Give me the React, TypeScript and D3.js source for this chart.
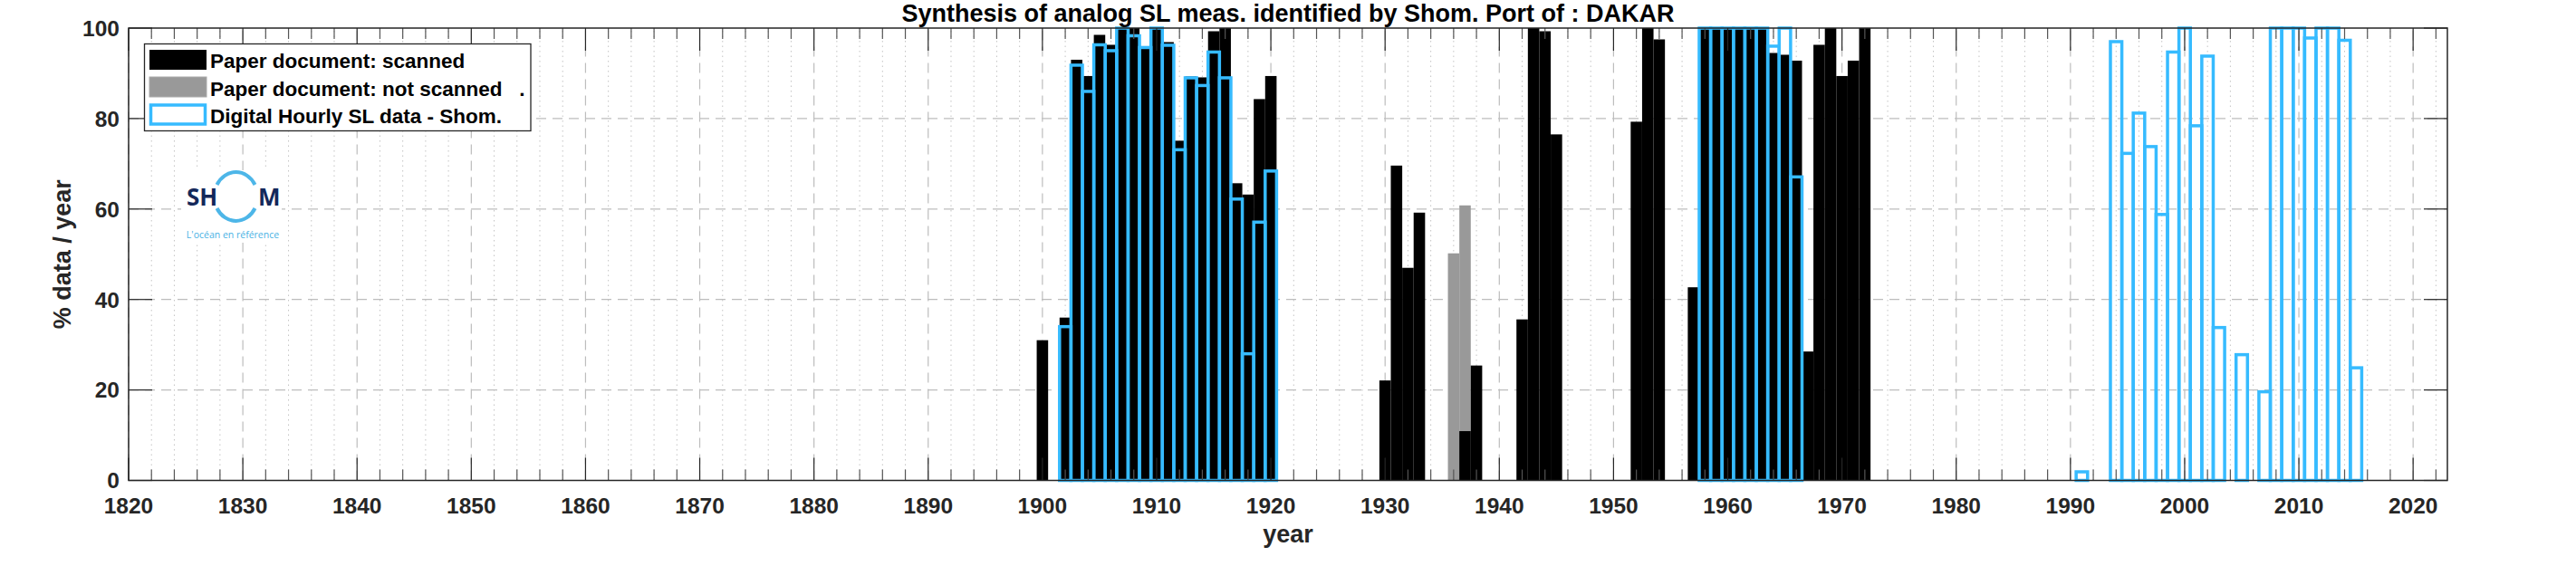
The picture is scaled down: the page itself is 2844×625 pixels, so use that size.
import React from "react";
import * as d3 from "d3";

// ---------- data ----------
const scannedYears = [1900, 1902, 1903, 1904, 1905, 1906, 1907, 1908, 1909, 1910, 1911, 1912, 1913, 1914, 1915, 1916, 1917, 1918, 1919, 1920,
  1930, 1931, 1932, 1933, 1937, 1938, 1942, 1943, 1944, 1945, 1952, 1953, 1954,
  1957, 1958, 1959, 1960, 1961, 1962, 1963, 1964, 1965, 1966, 1967, 1968, 1969, 1970, 1971, 1972];
const scannedPct = [31, 36, 93, 89.4, 98.5, 96.3, 100, 100, 96, 100, 96.9, 75.1, 89.3, 89.1, 99.3, 100, 65.7, 63.2, 84.3, 89.4,
  22.1, 69.6, 47, 59.2, 10.9, 25.4, 35.6, 100, 99.3, 76.5, 79.3, 100, 97.5,
  42.7, 100, 100, 100, 100, 100, 100, 94.5, 94.1, 92.8, 28.5, 96.3, 100, 89.4, 92.8, 100];

const notScannedYears = [1936, 1937];
const notScannedPct = [50.2, 60.8];

const digitalYears = [1902, 1903, 1904, 1905, 1906, 1907, 1908, 1909, 1910, 1911, 1912, 1913, 1914, 1915, 1916, 1917, 1918, 1919, 1920,
  1958, 1959, 1960, 1961, 1962, 1963, 1964, 1965, 1966,
  1991, 1994, 1995, 1996, 1997, 1998, 1999, 2000, 2001, 2002, 2003, 2005, 2007, 2008, 2009, 2010, 2011, 2012, 2013, 2014, 2015];
const digitalPct = [34, 91.8, 86, 96.3, 95, 100, 98.3, 95.7, 100, 96.2, 73.1, 89, 87.3, 94.7, 89, 62.2, 28, 57.1, 68.4,
  100, 100, 100, 100, 100, 100, 96, 100, 67.1,
  1.9, 97, 72.3, 81.2, 73.8, 58.8, 94.7, 100, 78.4, 93.8, 33.8, 27.8, 19.6, 100, 100, 100, 97.8, 100, 100, 97.3, 24.9];

const xTickLabels = [1820, 1830, 1840, 1850, 1860, 1870, 1880, 1890, 1900, 1910, 1920, 1930, 1940, 1950, 1960, 1970, 1980, 1990, 2000, 2010, 2020];
const yTickLabels = [0, 20, 40, 60, 80, 100];

const titleText = "Synthesis of analog SL meas. identified by Shom. Port of : DAKAR";
const legendLabels = ["Paper document: scanned", "Paper document: not scanned   .", "Digital Hourly SL data - Shom."];

// ---------- styling ----------
const W = 2844;
const H = 625;
const BLUE = "#36BBFF";
const GRAY = "#999999";
const AX = "#262626";
const FONT = "'Liberation Sans', Arial, Helvetica, sans-serif";

export default function App() {
  const x = d3.scaleLinear().domain([1820, 2023]).range([142, 2702]);
  const y = d3.scaleLinear().domain([0, 100]).range([530.5, 31]);
  const [x0, x1] = x.range();
  const [yb, yt] = y.range();

  const minorYears = d3.range(1822, 2023, 2).filter((v) => v % 10 !== 0);

  const bar = (yr: number, v: number) => ({
    x: x(yr - 0.5),
    w: x(yr + 0.5) - x(yr - 0.5),
    y: y(v),
    h: y(0) - y(v),
  });

  return (
    <svg width={W} height={H} style={{ position: "absolute", left: 0, top: 0, background: "#fff" }} fontFamily={FONT}>
      <rect x={0} y={0} width={W} height={H} fill="#fff" />
      {/* minor grid */}
      {minorYears.map((v) => (
        <line key={"mg" + v} x1={x(v)} x2={x(v)} y1={yb} y2={yt} stroke="#c4c4c4" strokeWidth={1} strokeDasharray="1.5,4" />
      ))}
      {/* major grid */}
      {xTickLabels.map((v) => (
        <line key={"gx" + v} x1={x(v)} x2={x(v)} y1={yb} y2={yt} stroke="#bdbdbd" strokeWidth={1.2} strokeDasharray="11,7" />
      ))}
      {yTickLabels.filter((v) => v > 0 && v < 100).map((v) => (
        <line key={"gy" + v} x1={x0} x2={x1} y1={y(v)} y2={y(v)} stroke="#bdbdbd" strokeWidth={1.2} strokeDasharray="11,7" />
      ))}

      {/* bars: not scanned (gray) */}
      {notScannedYears.map((yr, i) => {
        const b = bar(yr, notScannedPct[i]);
        return <rect key={"ns" + yr} x={b.x} y={b.y} width={b.w} height={b.h} fill={GRAY} />;
      })}
      {/* bars: scanned (black) */}
      {scannedYears.map((yr, i) => {
        const b = bar(yr, scannedPct[i]);
        return <rect key={"sc" + yr} x={b.x} y={b.y} width={b.w} height={b.h} fill="#000" />;
      })}
      {/* bars: digital (blue outline) */}
      {digitalYears.map((yr, i) => {
        const b = bar(yr, digitalPct[i]);
        return <rect key={"dg" + yr} x={b.x} y={b.y} width={b.w} height={b.h} fill="none" stroke={BLUE} strokeWidth={3.5} />;
      })}

      {/* ticks */}
      {xTickLabels.map((v) => (
        <g key={"tx" + v}>
          <line x1={x(v)} x2={x(v)} y1={yb} y2={yb - 25} stroke={AX} strokeWidth={1.2} />
          <line x1={x(v)} x2={x(v)} y1={yt} y2={yt + 25} stroke={AX} strokeWidth={1.2} />
        </g>
      ))}
      {minorYears.map((v) => (
        <g key={"mt" + v}>
          <line x1={x(v)} x2={x(v)} y1={yb} y2={yb - 12} stroke="#555" strokeWidth={1.2} />
          <line x1={x(v)} x2={x(v)} y1={yt} y2={yt + 12} stroke="#555" strokeWidth={1.2} />
        </g>
      ))}
      {yTickLabels.map((v) => (
        <g key={"ty" + v}>
          <line x1={x0} x2={x0 + 26} y1={y(v)} y2={y(v)} stroke={AX} strokeWidth={1.2} />
          <line x1={x1} x2={x1 - 26} y1={y(v)} y2={y(v)} stroke={AX} strokeWidth={1.2} />
        </g>
      ))}
      {/* axes box */}
      <rect x={x0} y={yt} width={x1 - x0} height={yb - yt} fill="none" stroke={AX} strokeWidth={1.5} />

      {/* tick labels */}
      {xTickLabels.map((v) => (
        <text key={"lx" + v} x={x(v)} y={567} textAnchor="middle" fontSize={24.5} fontWeight="bold" fill={AX}>
          {v}
        </text>
      ))}
      {yTickLabels.map((v) => (
        <text key={"ly" + v} x={132} y={y(v) + 8.8} textAnchor="end" fontSize={24.5} fontWeight="bold" fill={AX}>
          {v}
        </text>
      ))}

      {/* axis labels & title */}
      <text x={(x0 + x1) / 2} y={599} textAnchor="middle" fontSize={27} fontWeight="bold" fill={AX}>
        year
      </text>
      <text transform={`translate(78, ${(yb + yt) / 2}) rotate(-90)`} textAnchor="middle" fontSize={27} fontWeight="bold" fill={AX}>
        % data / year
      </text>
      <text x={(x0 + x1) / 2} y={23.5} textAnchor="middle" fontSize={27} fontWeight="bold" fill="#000">
        {titleText}
      </text>

      {/* SHOM logo */}
      <g>
        <rect x={200} y={188} width={111} height={80} fill="#fff" />
        <text x={206} y={227} fontSize={26} fontWeight="bold" fill="#14285a" fontFamily="'Open Sans', 'Liberation Sans', sans-serif">SH</text>
        <text x={285} y={227} fontSize={26} fontWeight="bold" fill="#14285a" fontFamily="'Open Sans', 'Liberation Sans', sans-serif">M</text>
        <path d="M 239.5 204 A 24 27 0 0 1 281.5 204" fill="none" stroke="#4db6e8" strokeWidth={4} />
        <path d="M 239.5 230 A 24 27 0 0 0 281.5 230" fill="none" stroke="#4db6e8" strokeWidth={4} />
        <text x={257} y={263} textAnchor="middle" fontSize={10.5} fill="#4ab2e4" fontFamily="'Open Sans', 'Liberation Sans', sans-serif">L'océan en référence</text>
      </g>

      {/* legend */}
      <g>
        <rect x={159.5} y={48.5} width={426.5} height={96} fill="#fff" stroke={AX} strokeWidth={1.3} />
        <rect x={165} y={55} width={63} height={22} fill="#000" />
        <rect x={165} y={85} width={63} height={22} fill={GRAY} stroke="#aaa" strokeWidth={1} />
        <rect x={166.5} y={116} width={60} height={21} fill="none" stroke={BLUE} strokeWidth={3.5} />
        {legendLabels.map((t, i) => (
          <text key={"lg" + i} x={232} y={75 + i * 30.5} fontSize={22.5} fontWeight="bold" fill="#000" style={{ whiteSpace: "pre" }}>
            {t}
          </text>
        ))}
      </g>
    </svg>
  );
}
